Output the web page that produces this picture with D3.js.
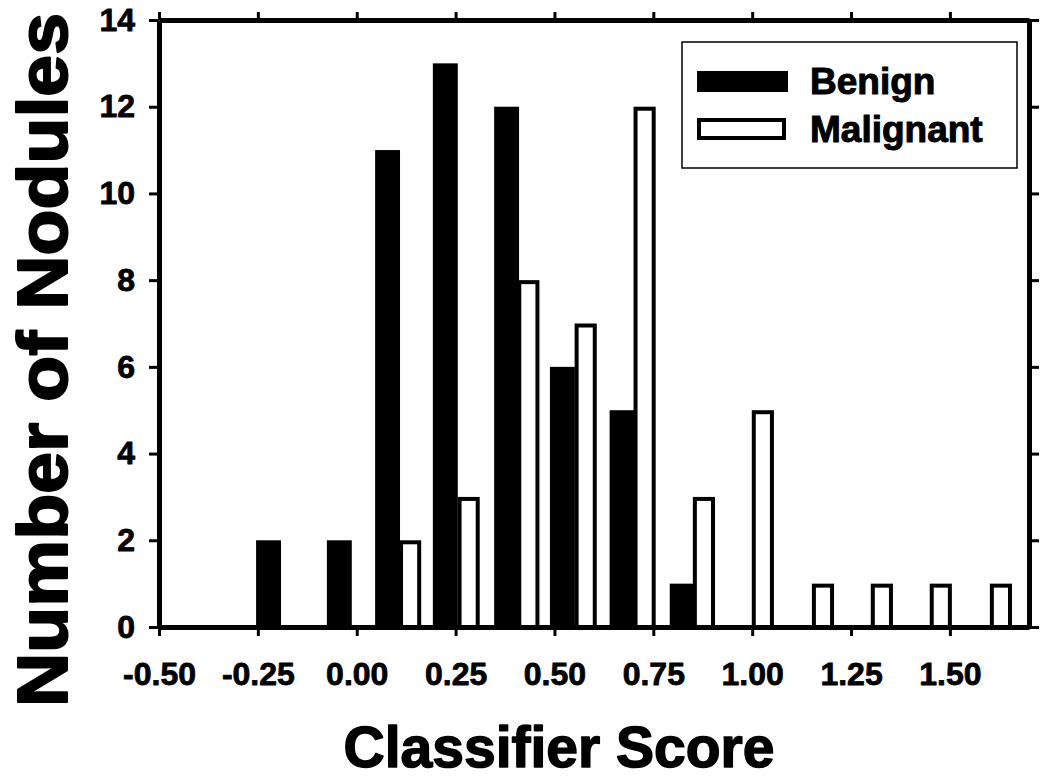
<!DOCTYPE html>
<html>
<head>
<meta charset="utf-8">
<script src="https://cdn.jsdelivr.net/npm/d3@7"></script>
<style>
  body { margin: 0; background: #fff; }
  text { font-family: "Liberation Sans", Arial, Helvetica, sans-serif; font-weight: bold; }
</style>
</head>
<body>
<svg id="chart" width="1050" height="783"></svg>
<script>
// histogram bars (bar centre on the score axis, count)
var benignScore = [-0.223, -0.044, 0.078, 0.224, 0.379, 0.520, 0.671, 0.823]
var benignCount = [2, 2, 11, 13, 12, 6, 5, 1]

var malignantScore = [0.135, 0.283, 0.434, 0.579, 0.728, 0.878, 1.027, 1.179, 1.328, 1.477, 1.629]
var malignantCount = [2, 3, 8, 7, 12, 3, 5, 1, 1, 1, 1]

var xTicks = [-0.5, -0.25, 0, 0.25, 0.5, 0.75, 1.0, 1.25, 1.5]
var yTicks = [0, 2, 4, 6, 8, 10, 12, 14]

var seriesNames = ['Benign', 'Malignant']

var svg = d3.select('#chart')

// plot frame (note: "top" is taken by window.top, so use other names)
var plotL = 159, plotR = 1029, plotT = 20, plotB = 627

var x = d3.scaleLinear().domain([-0.5, 1.7]).range([plotL, plotR])
var y = d3.scaleLinear().domain([0, 14]).range([plotB, plotT])

var benignW = 0.063, malignantW = 0.056
var sw = 4 // outline of the open bars

// benign: solid black
svg.append('g').selectAll('rect')
  .data(benignScore.map((s, i) => ({s: s, n: benignCount[i]})))
  .enter().append('rect')
  .attr('x', d => x(d.s - benignW / 2))
  .attr('width', d => x(d.s + benignW / 2) - x(d.s - benignW / 2))
  .attr('y', d => y(d.n))
  .attr('height', d => y(0) - y(d.n))
  .attr('fill', '#000')

// malignant: open bars
svg.append('g').selectAll('rect')
  .data(malignantScore.map((s, i) => ({s: s, n: malignantCount[i]})))
  .enter().append('rect')
  .attr('x', d => x(d.s - malignantW / 2) + sw / 2)
  .attr('width', d => x(d.s + malignantW / 2) - x(d.s - malignantW / 2) - sw)
  .attr('y', d => y(d.n) + sw / 2)
  .attr('height', d => y(0) - y(d.n) - sw / 2)
  .attr('fill', '#fff')
  .attr('stroke', '#000')
  .attr('stroke-width', sw)

// the original type is heavier than Liberation bold, so thicken it a little
function heavy(sel, w) {
  sel.attr('stroke', '#000').attr('stroke-width', w).attr('stroke-linejoin', 'round')
}

function styleAxis(g) {
  g.select('.domain').attr('stroke', '#000').attr('stroke-width', 5)
  g.selectAll('.tick line').attr('stroke', '#000').attr('stroke-width', 3)
  g.selectAll('.tick text').attr('fill', '#000').style('font-size', '32px').call(heavy, 0.8)
}

// bottom axis with labels (plain hyphen for negatives, as in the original)
svg.append('g')
  .attr('transform', 'translate(0,' + plotB + ')')
  .call(d3.axisBottom(x).tickValues(xTicks).tickFormat(d => d.toFixed(2))
    .tickSize(9).tickSizeOuter(0).tickPadding(26))
  .call(styleAxis)

// top axis, ticks only
svg.append('g')
  .attr('transform', 'translate(0,' + plotT + ')')
  .call(d3.axisTop(x).tickValues(xTicks).tickFormat('').tickSize(8).tickSizeOuter(0))
  .call(styleAxis)

// left axis with labels
svg.append('g')
  .attr('transform', 'translate(' + plotL + ',0)')
  .call(d3.axisLeft(y).tickValues(yTicks).tickFormat(d3.format('d'))
    .tickSize(10).tickSizeOuter(0).tickPadding(14))
  .call(styleAxis)

// right axis, ticks only
svg.append('g')
  .attr('transform', 'translate(' + plotR + ',0)')
  .call(d3.axisRight(y).tickValues(yTicks).tickFormat('').tickSize(10).tickSizeOuter(0))
  .call(styleAxis)

// axis titles
svg.append('text')
  .attr('transform', 'translate(67,360) rotate(-90)')
  .attr('text-anchor', 'middle')
  .attr('textLength', 694)
  .attr('lengthAdjust', 'spacingAndGlyphs')
  .style('font-size', '70px')
  .call(heavy, 2)
  .text('Number of Nodules')

svg.append('text')
  .attr('x', 559)
  .attr('y', 767)
  .attr('text-anchor', 'middle')
  .style('font-size', '57px')
  .call(heavy, 1.5)
  .text('Classifier Score')

// legend
var lg = svg.append('g')
lg.append('rect')
  .attr('x', 682).attr('y', 42).attr('width', 335).attr('height', 126)
  .attr('fill', '#fff').attr('stroke', '#000').attr('stroke-width', 1.5)

lg.append('rect')
  .attr('x', 697).attr('y', 71).attr('width', 91).attr('height', 21)
  .attr('fill', '#000')
lg.append('rect')
  .attr('x', 697 + sw / 2).attr('y', 118 + sw / 2).attr('width', 89 - sw).attr('height', 22 - sw)
  .attr('fill', '#fff').attr('stroke', '#000').attr('stroke-width', sw)

lg.selectAll('text.lab')
  .data(seriesNames)
  .enter().append('text')
  .attr('class', 'lab')
  .attr('x', 810)
  .attr('y', (d, i) => 94 + i * 48)
  .style('font-size', '37px')
  .call(heavy, 1)
  .text(d => d)
</script>
</body>
</html>
